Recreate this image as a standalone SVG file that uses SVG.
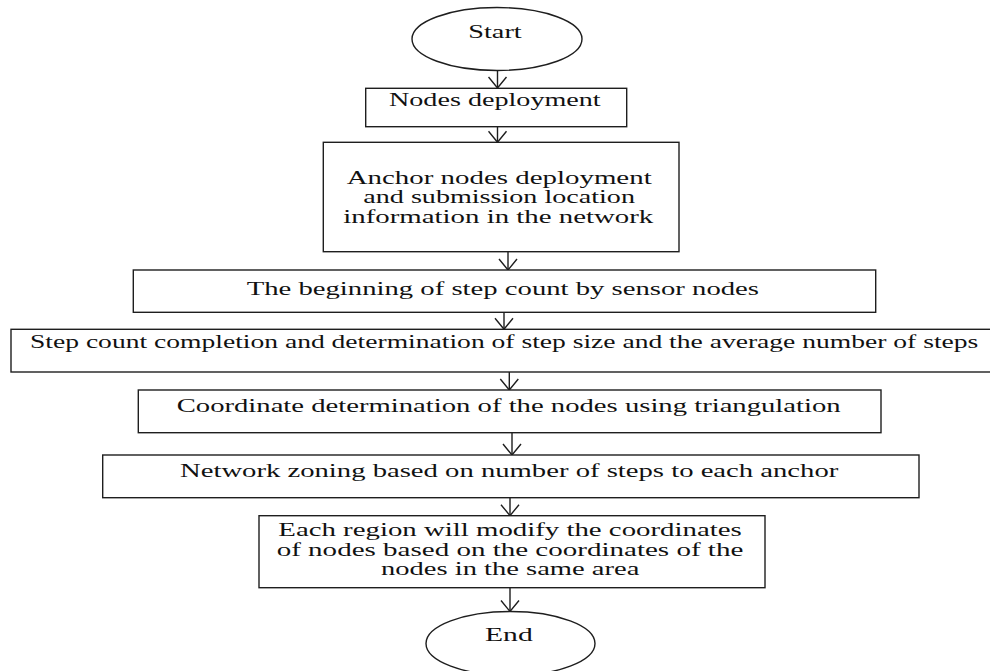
<svg xmlns="http://www.w3.org/2000/svg" width="990" height="671" viewBox="0 0 990 671">
<style>
.shape{fill:#ffffff;stroke:#1e1e1e;stroke-width:1.4}
.conn{fill:none;stroke:#1e1e1e;stroke-width:1.4}
.lbl{font-family:"Liberation Serif","Times New Roman",serif;font-size:18px;fill:#111111}
</style>
<defs>
<marker id="vhead" markerUnits="userSpaceOnUse" viewBox="-12 -10 13 20" markerWidth="13" markerHeight="20" refX="0" refY="0" orient="auto">
<path d="M-11,-9 L0,0 L-11,9" fill="none" stroke="#1e1e1e" stroke-width="1.4"/>
</marker>
</defs>
<rect width="990" height="671" fill="#ffffff"/>
<g id="connectors">
<line class="conn" x1="497.5" y1="70" x2="497.5" y2="88" marker-end="url(#vhead)"/>
<line class="conn" x1="497.5" y1="126.7" x2="497.5" y2="142.3" marker-end="url(#vhead)"/>
<line class="conn" x1="508" y1="251.7" x2="508" y2="270" marker-end="url(#vhead)"/>
<line class="conn" x1="504" y1="312.3" x2="504" y2="329.3" marker-end="url(#vhead)"/>
<line class="conn" x1="509.3" y1="372" x2="509.3" y2="390" marker-end="url(#vhead)"/>
<line class="conn" x1="512" y1="432.7" x2="512" y2="455" marker-end="url(#vhead)"/>
<line class="conn" x1="510" y1="497.7" x2="510" y2="515.7" marker-end="url(#vhead)"/>
<line class="conn" x1="510" y1="587.7" x2="510" y2="611.5" marker-end="url(#vhead)"/>
</g>
<g id="start">
<ellipse class="shape" cx="497" cy="39" rx="85" ry="31.5"/>
<text class="lbl" x="468.3" y="37.5" textLength="53.4" lengthAdjust="spacingAndGlyphs">Start</text>
</g>
<g id="nodes-deployment">
<rect class="shape" x="365.7" y="88.3" width="261" height="38.4"/>
<text class="lbl" x="389" y="106" textLength="211.7" lengthAdjust="spacingAndGlyphs">Nodes deployment</text>
</g>
<g id="anchor-deployment">
<rect class="shape" x="323.3" y="142.3" width="355.7" height="109.4"/>
<text class="lbl" x="346.7" y="184.3" textLength="305" lengthAdjust="spacingAndGlyphs">Anchor nodes deployment</text>
<text class="lbl" x="363.3" y="203" textLength="271.7" lengthAdjust="spacingAndGlyphs">and submission location</text>
<text class="lbl" x="343.3" y="222.5" textLength="310" lengthAdjust="spacingAndGlyphs">information in the network</text>
</g>
<g id="step-count-begin">
<rect class="shape" x="133.3" y="270" width="742.4" height="42.3"/>
<text class="lbl" x="246.7" y="295" textLength="512.3" lengthAdjust="spacingAndGlyphs">The beginning of step count by sensor nodes</text>
</g>
<g id="step-count-completion">
<rect class="shape" x="11" y="329.3" width="985" height="42.7"/>
<text class="lbl" x="30" y="347.7" textLength="948.3" lengthAdjust="spacingAndGlyphs">Step count completion and determination of step size and the average number of steps</text>
</g>
<g id="coordinate-determination">
<rect class="shape" x="138.3" y="390" width="742.7" height="42.7"/>
<text class="lbl" x="176.7" y="411.7" textLength="664" lengthAdjust="spacingAndGlyphs">Coordinate determination of the nodes using triangulation</text>
</g>
<g id="network-zoning">
<rect class="shape" x="102.7" y="455" width="816.3" height="42.7"/>
<text class="lbl" x="180" y="476.7" textLength="658.3" lengthAdjust="spacingAndGlyphs">Network zoning based on number of steps to each anchor</text>
</g>
<g id="region-modify">
<rect class="shape" x="259" y="515.7" width="506" height="72"/>
<text class="lbl" x="278.3" y="535.7" textLength="463.4" lengthAdjust="spacingAndGlyphs">Each region will modify the coordinates</text>
<text class="lbl" x="276.7" y="555.7" textLength="466.6" lengthAdjust="spacingAndGlyphs">of nodes based on the coordinates of the</text>
<text class="lbl" x="381" y="575" textLength="258.3" lengthAdjust="spacingAndGlyphs">nodes in the same area</text>
</g>
<g id="end">
<ellipse class="shape" cx="510.5" cy="643.5" rx="84.5" ry="32"/>
<text class="lbl" x="485" y="640.7" textLength="47.7" lengthAdjust="spacingAndGlyphs">End</text>
</g>
</svg>
